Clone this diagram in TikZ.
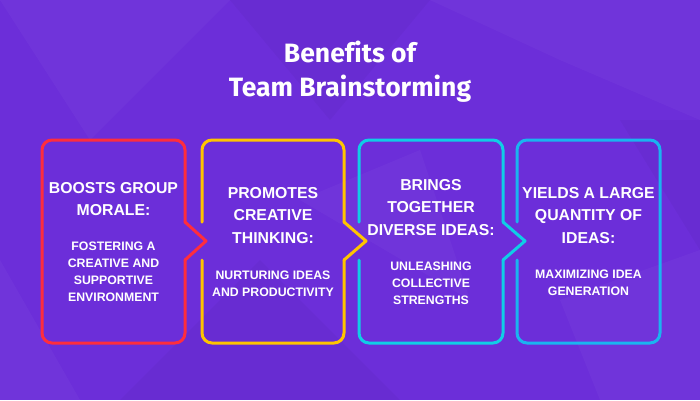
\documentclass[tikz,border=0pt]{standalone}
\usepackage{fontspec}
\setmainfont{Liberation Sans}
\newfontfamily\titlefont[Ligatures=NoCommon]{Fira Sans}
\definecolor{bg}{HTML}{6C2ED9}
\definecolor{cRed}{HTML}{FF2D3D}
\definecolor{cYel}{HTML}{FFC400}
\definecolor{cCyan}{HTML}{10CDE6}
\definecolor{cBlue}{HTML}{1AB4F0}
\begin{document}
\begin{tikzpicture}[x=1pt,y=-1pt,
  outline/.style={line width=3pt, line cap=round, line join=round},
  roundbox/.style={outline, rounded corners=10pt},
  head/.style={text=white, font=\bfseries\fontsize{15.8}{22.5}\selectfont, align=center, anchor=base, inner sep=0pt},
  sub/.style={text=white, font=\bfseries\fontsize{12.3}{17}\selectfont, align=center, anchor=base, inner sep=0pt},
  ttl/.style={text=white, font=\titlefont\bfseries\fontsize{26.5}{34}\selectfont, anchor=base, inner sep=0pt},
  facet/.style={fill=white, fill opacity=0.03},
  shade/.style={fill=black, fill opacity=0.03}]
% background
\fill[bg] (0,0) rectangle (700,400);
\useasboundingbox (0,0) rectangle (700,400);
\fill[facet] (0,0) -- (230,0) -- (90,140) -- cycle;
\fill[facet] (430,0) -- (700,0) -- (700,120) -- (560,60) -- cycle;
\fill[facet] (300,200) -- (420,150) -- (470,300) -- cycle;
\fill[facet] (560,300) -- (700,250) -- (700,400) -- (600,400) -- cycle;
\fill[facet] (0,260) -- (80,400) -- (0,400) -- cycle;
\fill[shade] (120,400) -- (260,260) -- (400,400) -- cycle;
\fill[shade] (230,0) -- (430,0) -- (330,120) -- cycle;
\fill[shade] (620,120) -- (700,120) -- (700,250) -- cycle;
% title
\node[ttl] (t1) at (350,62) {Benefits of};
\node[ttl] (t2) at (350,96) {Team Brainstorming};
% box 1
\draw[roundbox,cRed] (185,222) -- (185,140) -- (42,140) -- (42,343) -- (185,343) -- (185,260);
\draw[outline,cRed] (185,222) -- (206,241) -- (185,260);
% box 2
\draw[roundbox,cYel] (202,222) -- (202,140) -- (344,140) -- (344,222);
\draw[outline,cYel] (344,222) -- (366,241) -- (344,260);
\draw[roundbox,cYel] (344,260) -- (344,343) -- (202,343) -- (202,260);
% box 3
\draw[roundbox,cCyan] (359,222) -- (359,140) -- (503,140) -- (503,222);
\draw[outline,cCyan] (503,222) -- (525,241) -- (503,260);
\draw[roundbox,cCyan] (503,260) -- (503,343) -- (359,343) -- (359,260);
% box 4
\draw[roundbox,cBlue] (517,222) -- (517,140) -- (660,140) -- (660,343) -- (517,343) -- (517,260);
% texts (anchor base = baseline of last line)
\node[head] (h1) at (113.5,215.5) {BOOSTS GROUP\\MORALE:};
\node[sub]  (s1) at (113.5,301.7) {FOSTERING A\\CREATIVE AND\\SUPPORTIVE\\ENVIRONMENT};
\node[head] (h2) at (273,243.3) {PROMOTES\\CREATIVE\\THINKING:};
\node[sub]  (s2) at (273,296) {NURTURING IDEAS\\AND PRODUCTIVITY};
\node[head] (h3) at (431,235) {BRINGS\\TOGETHER\\DIVERSE IDEAS:};
\node[sub]  (s3) at (431,304.3) {UNLEASHING\\COLLECTIVE\\STRENGTHS};
\node[head] (h4) at (588.5,243.3) {YIELDS A LARGE\\QUANTITY OF\\IDEAS:};
\node[sub]  (s4) at (588.5,295.7) {MAXIMIZING IDEA\\GENERATION};
\end{tikzpicture}
\end{document}
